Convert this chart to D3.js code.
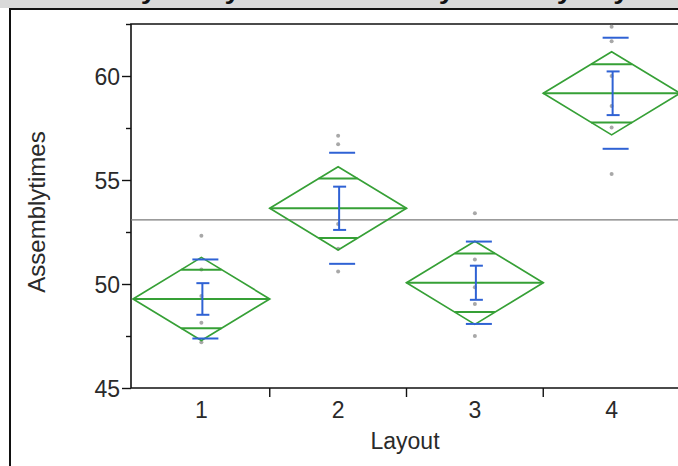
<!DOCTYPE html>
<html>
<head>
<meta charset="utf-8">
<script src="https://cdn.jsdelivr.net/npm/d3@7"></script>
<style>
  body{margin:0;background:#fff;}
  text{font-family:"Liberation Sans",Arial,sans-serif;}
</style>
</head>
<body>
<div id="oneway"></div>
<script>
// values
const layouts=["1","2","3","4"];
const means=[49.28,53.64,50.06,59.17];
const ciHalf=[2.0,2.0,2.0,2.0];        // diamond half height (95% CI)
const overlapHalf=[1.41,1.43,1.41,1.40];
const seHalf=[0.76,1.04,0.82,1.05];     // mean error bars
const sdHalf=[1.90,2.67,1.98,2.67];     // std dev lines
const grandMean=53.08;
const points=[
  [52.32,50.7,49.42,48.14,47.2],
  [57.13,56.72,52.88,51.7,50.6],
  [53.4,51.18,49.84,49.04,47.5],
  [62.37,61.67,60.0,58.56,57.52,55.29]
];
const yTicks=[45,50,55,60];
const yMinor=[47.5,52.5,57.5,62.5];

(function(){
  const W=678,H=466;
  const L=131,T=24,R=680,B=388;
  const GREEN='#36a036',BLUE='#2f62d4',GRAY='#a8a8a8',INK='#2a2a2a';
  const FS='23px';

  const svg=d3.select('#oneway').append('svg').attr('width',W).attr('height',H);

  // title band, cut off at the top of the picture
  svg.append('rect').attr('x',0).attr('y',0).attr('width',W).attr('height',8).attr('fill','#d9d9d9');
  svg.append('text').attr('x',48).attr('y',-1)
     .attr('textLength',625).attr('lengthAdjust','spacingAndGlyphs')
     .style('font-size','24px').style('font-weight','bold').attr('fill','#111')
     .text('Oneway Analysis of Assemblytimes By Layout');
  // outer report frame
  svg.append('rect').attr('x',10).attr('y',9).attr('width',W).attr('height',H)
     .attr('fill','#fff').attr('stroke','#111').attr('stroke-width',2);

  const x=d3.scaleBand().domain(layouts).range([133,680]).padding(0);
  const y=d3.scaleLinear().domain([45,62.5]).range([B,T]);

  const plot=svg.append('g');
  plot.append('path').attr('d',`M${R},${T}H${L}V${B}H${R}`)
      .attr('fill','none').attr('stroke','#111').attr('stroke-width',1.6);

  // y axis
  const yAxis=svg.append('g').attr('transform',`translate(${L},0)`)
     .call(d3.axisLeft(y).tickValues(yTicks).tickSize(9).tickPadding(2).tickFormat(d3.format('d')));
  yAxis.select('.domain').remove();
  yAxis.selectAll('line').attr('stroke','#111').attr('stroke-width',1.4);
  yAxis.selectAll('text').style('font-size',FS).attr('fill',INK).attr('dy','0.35em');
  svg.append('g').attr('transform',`translate(${L},0)`)
     .call(d3.axisLeft(y).tickValues(yMinor).tickSize(5).tickFormat(''))
     .call(g=>{g.select('.domain').remove();g.selectAll('line').attr('stroke','#111').attr('stroke-width',1.4);});

  // x axis: labels at category centres, ticks at the boundaries
  const bounds=layouts.slice(1).map(d=>x(d));
  svg.append('g').selectAll('line').data(bounds).join('line')
     .attr('x1',d=>d).attr('x2',d=>d).attr('y1',B).attr('y2',B+9)
     .attr('stroke','#111').attr('stroke-width',1.4);
  svg.append('g').selectAll('text').data(layouts).join('text')
     .attr('x',d=>x(d)+x.bandwidth()/2).attr('y',B+30)
     .attr('text-anchor','middle').style('font-size',FS).attr('fill',INK)
     .text(d=>d);

  svg.append('text').attr('x',405).attr('y',449).attr('text-anchor','middle')
     .style('font-size',FS).attr('fill',INK).text('Layout');
  svg.append('text').attr('transform','translate(45,212) rotate(-90)').attr('text-anchor','middle')
     .style('font-size','24px').attr('fill',INK).text('Assemblytimes');

  // grand mean
  plot.append('line').attr('x1',L).attr('x2',R).attr('y1',y(grandMean)).attr('y2',y(grandMean))
      .attr('stroke','#7a7a7a').attr('stroke-width',1.2);

  const rows=layouts.map((d,i)=>({name:d,mean:means[i],ci:ciHalf[i],ov:overlapHalf[i],se:seHalf[i],sd:sdHalf[i],pts:points[i]}));
  const bw=x.bandwidth();
  const cx=d=>x(d.name)+bw/2;
  const g=plot.selectAll('g.grp').data(rows).join('g').attr('class','grp');

  // points
  g.selectAll('circle').data(d=>d.pts.map(v=>({v,c:cx(d)}))).join('circle')
   .attr('cx',p=>p.c).attr('cy',p=>y(p.v)).attr('r',2).attr('fill',GRAY);

  // means diamonds
  g.append('path').attr('fill','none').attr('stroke',GREEN).attr('stroke-width',1.7)
   .attr('d',d=>`M${x(d.name)},${y(d.mean)}L${cx(d)},${y(d.mean+d.ci)}L${x(d.name)+bw},${y(d.mean)}L${cx(d)},${y(d.mean-d.ci)}Z`);
  g.append('line').attr('stroke',GREEN).attr('stroke-width',2)
   .attr('x1',d=>x(d.name)).attr('x2',d=>x(d.name)+bw).attr('y1',d=>y(d.mean)).attr('y2',d=>y(d.mean));
  [1,-1].forEach(s=>{
    g.append('line').attr('stroke',GREEN).attr('stroke-width',2)
     .attr('x1',d=>cx(d)-bw/2*(1-d.ov/d.ci)).attr('x2',d=>cx(d)+bw/2*(1-d.ov/d.ci))
     .attr('y1',d=>y(d.mean+s*d.ov)).attr('y2',d=>y(d.mean+s*d.ov));
  });

  // std dev lines
  [1,-1].forEach(s=>{
    g.append('line').attr('stroke',BLUE).attr('stroke-width',2)
     .attr('x1',d=>cx(d)-9).attr('x2',d=>cx(d)+17)
     .attr('y1',d=>y(d.mean+s*d.sd)).attr('y2',d=>y(d.mean+s*d.sd));
  });
  // mean error bars
  g.append('line').attr('stroke',BLUE).attr('stroke-width',2)
   .attr('x1',d=>cx(d)+1).attr('x2',d=>cx(d)+1).attr('y1',d=>y(d.mean+d.se)).attr('y2',d=>y(d.mean-d.se));
  [1,-1].forEach(s=>{
    g.append('line').attr('stroke',BLUE).attr('stroke-width',2)
     .attr('x1',d=>cx(d)-5).attr('x2',d=>cx(d)+8)
     .attr('y1',d=>y(d.mean+s*d.se)).attr('y2',d=>y(d.mean+s*d.se));
  });
})();
</script>
</body>
</html>
